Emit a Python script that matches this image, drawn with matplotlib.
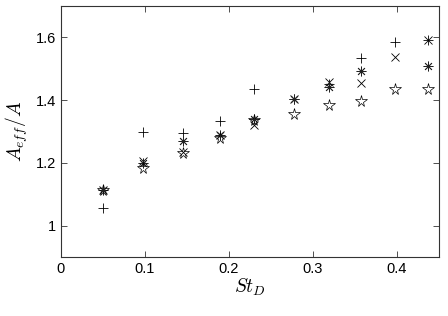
import numpy as np
import matplotlib
matplotlib.use('Agg')
from matplotlib import pyplot as plt

# data
st_d = [0.05, 0.098, 0.145, 0.19, 0.23, 0.278, 0.32, 0.358, 0.398, 0.437]
a_plus = [1.057, 1.297, 1.295, 1.332, 1.434, 1.405, 1.450, 1.535, 1.586, 1.592]
a_cross = [1.113, 1.207, 1.235, 1.290, 1.319, 1.404, 1.458, 1.456, 1.536, 1.592]
a_aster = [1.113, 1.200, 1.270, 1.290, 1.341, 1.404, 1.443, 1.493, np.nan, 1.509]
a_star = [1.113, 1.183, 1.231, 1.280, 1.335, 1.357, 1.383, 1.397, 1.436, 1.436]

x_ticks = [0, 0.1, 0.2, 0.3, 0.4]
y_ticks = [1, 1.2, 1.4, 1.6]

plt.rcParams['font.family'] = ['Liberation Sans', 'DejaVu Sans']
plt.rcParams['mathtext.fontset'] = 'cm'

fig = plt.figure(figsize=(4.48, 3.16), dpi=100)
ax = fig.add_axes([0.136, 0.187, 0.843, 0.794])

ax.plot(st_d, a_plus, linestyle='none', marker='+', color='k', markersize=7, markeredgewidth=0.6)
ax.plot(st_d, a_cross, linestyle='none', marker='x', color='k', markersize=5.5, markeredgewidth=0.6)
ax.plot(st_d, a_aster, linestyle='none', marker=(8, 2, 0), color='#222222', markersize=7,
        markeredgewidth=0.6)
ax.plot(st_d, a_star, linestyle='none', marker='*', color='k', markerfacecolor='none',
        markersize=8.5, markeredgewidth=0.5)

ax.set_xlim(0, 0.45)
ax.set_ylim(0.9, 1.7)
ax.set_xticks(x_ticks)
ax.set_xticklabels(['0', '0.1', '0.2', '0.3', '0.4'])
ax.set_yticks(y_ticks)
ax.set_yticklabels(['1', '1.2', '1.4', '1.6'])
ax.tick_params(direction='in', top=True, right=True, length=4, width=0.6, labelsize=10.5,
               colors='#333333', labelcolor='k')
for s in ax.spines.values():
    s.set_linewidth(0.8)
    s.set_color('#333333')

ax.set_xlabel('$St_D$', fontsize=14, labelpad=1)
ax.set_ylabel('$A_{eff}/A$', fontsize=14, labelpad=4)

fig.savefig('out.png', dpi=100)
